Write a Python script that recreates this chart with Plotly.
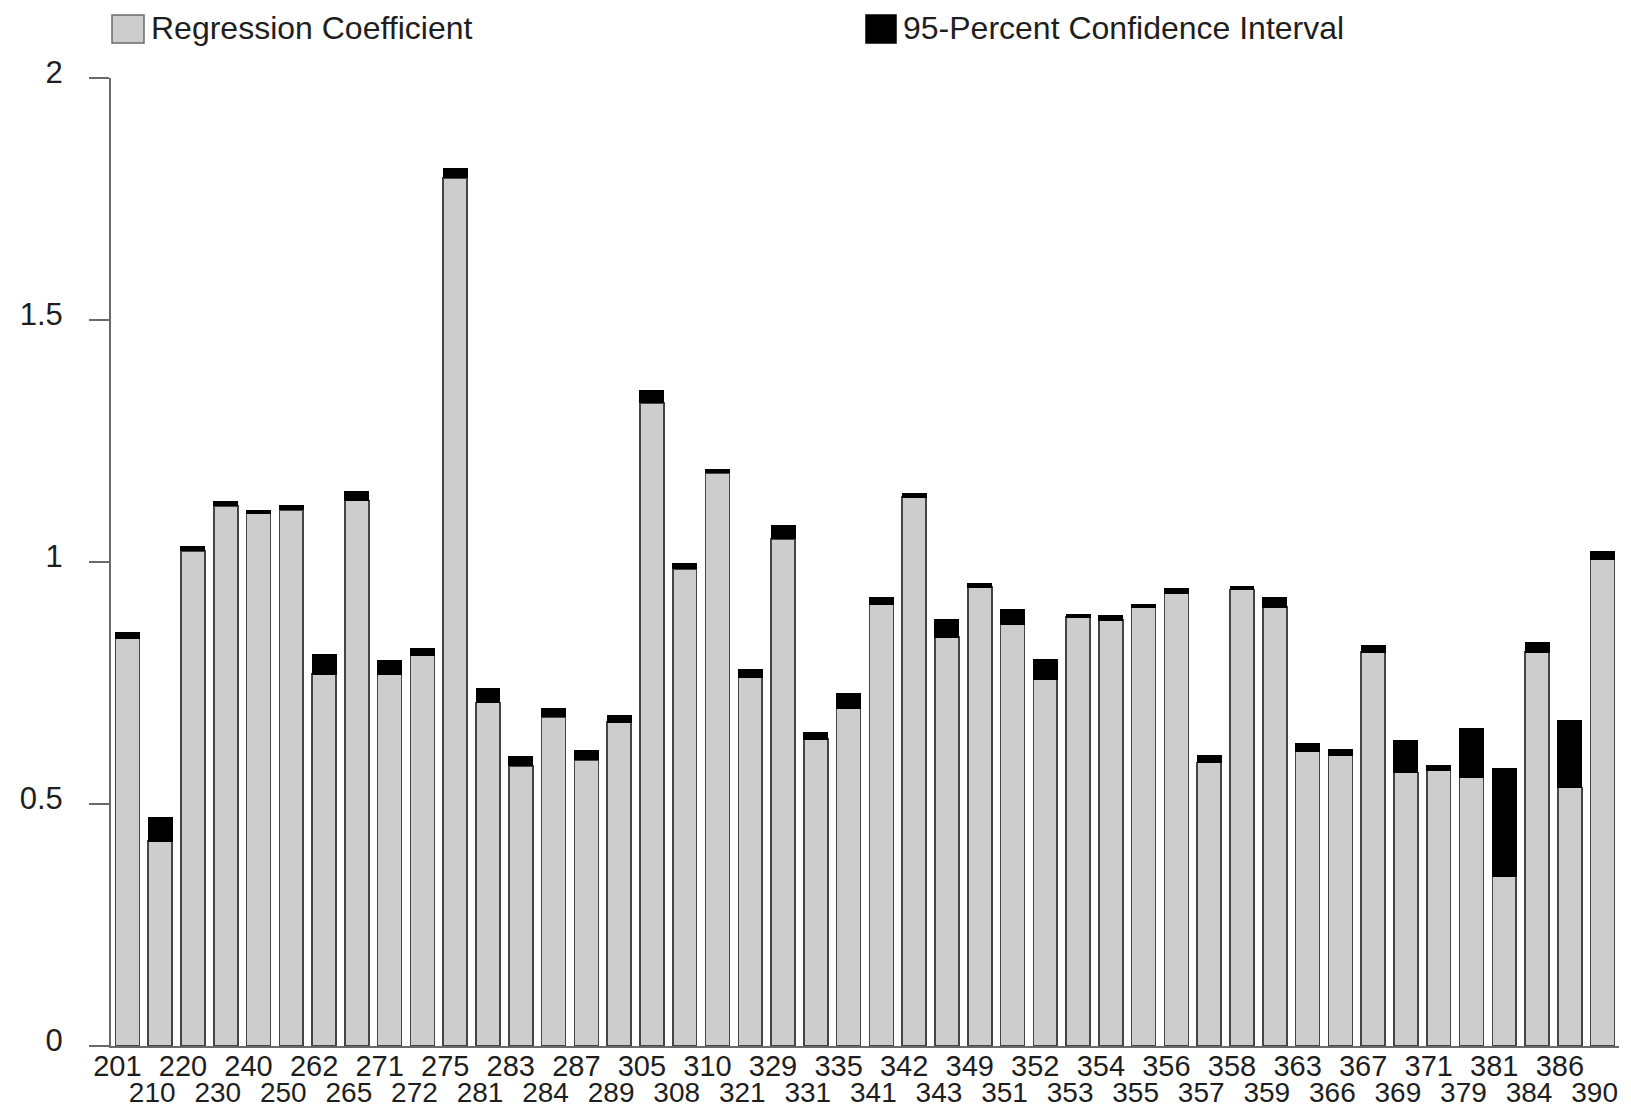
import plotly.graph_objects as go

# ---- data ----
categories = ["201", "210", "220", "230", "240", "250", "262", "265", "271", "272",
              "275", "281", "283", "284", "287", "289", "305", "308", "310", "321",
              "329", "331", "335", "341", "342", "343", "349", "351", "352", "353",
              "354", "355", "356", "357", "358", "359", "363", "366", "367", "369",
              "371", "379", "381", "384", "386", "390"]

coefficient = [0.842, 0.423, 1.023, 1.116, 1.100, 1.108, 0.768, 1.127, 0.768, 0.807,
               1.794, 0.710, 0.579, 0.680, 0.591, 0.669, 1.329, 0.986, 1.184, 0.762,
               1.048, 0.634, 0.698, 0.913, 1.134, 0.845, 0.948, 0.871, 0.757, 0.886,
               0.880, 0.907, 0.935, 0.586, 0.943, 0.907, 0.609, 0.600, 0.814, 0.565,
               0.570, 0.555, 0.351, 0.814, 0.534, 1.006]

upper_ci = [0.854, 0.473, 1.032, 1.124, 1.106, 1.116, 0.808, 1.146, 0.797, 0.822,
            1.813, 0.738, 0.598, 0.698, 0.610, 0.682, 1.355, 0.996, 1.192, 0.778,
            1.075, 0.647, 0.728, 0.927, 1.141, 0.881, 0.955, 0.902, 0.798, 0.891,
            0.889, 0.912, 0.945, 0.600, 0.949, 0.926, 0.626, 0.613, 0.828, 0.632,
            0.579, 0.656, 0.574, 0.833, 0.672, 1.021]

y_ticks = [0, 0.5, 1, 1.5, 2]
y_tick_labels = ["0", "0.5", "1", "1.5", "2"]

legend_labels = ["Regression Coefficient", "95-Percent Confidence Interval"]

# ---- styling ----
# the page body adds an 8px margin, so the figure is sized/positioned to compensate
OFF = 8
W, H = 1631 - 2 * OFF, 1119 - 2 * OFF
ML, MR, MT, MB = 103, 4, 70, 65
PW, PH = W - ML - MR, H - MT - MB
GREY = "#cdcdcd"
EDGE = "#454545"
AXIS = "#6a6a6a"
FONT = "Liberation Sans, Arial, sans-serif"
TXT = "#1e1e1e"

idx = list(range(len(categories)))
ci_width = [u - c for u, c in zip(upper_ci, coefficient)]

fig = go.Figure()
fig.add_trace(go.Bar(x=idx, y=coefficient, name=legend_labels[0],
                     marker=dict(color=GREY, line=dict(color=EDGE, width=1.6)),
                     showlegend=False))
fig.add_trace(go.Bar(x=idx, y=ci_width, name=legend_labels[1],
                     marker=dict(color="#000000", line=dict(color="#000000", width=1)),
                     showlegend=False))

even = idx[0::2]
odd = idx[1::2]

fig.update_layout(
    width=W, height=H,
    margin=dict(l=ML, r=MR, t=MT, b=MB, autoexpand=False),
    paper_bgcolor="white", plot_bgcolor="white",
    barmode="stack", bargap=0.27,
    font=dict(family=FONT, size=29, color=TXT),
    xaxis=dict(range=[-0.5, len(categories) - 0.5], tickmode="array",
               tickvals=even, ticktext=[categories[i] for i in even],
               ticks="", showgrid=False, zeroline=False, automargin=False,
               showline=True, linecolor=AXIS, linewidth=2,
               ticklabelshift=-10, ticklabelstandoff=-7, ticklabeloverflow="allow",
               tickfont=dict(size=29, color=TXT, family=FONT)),
    xaxis2=dict(overlaying="x", matches="x", anchor="y", side="bottom",
                tickmode="array", tickvals=odd,
                ticktext=[categories[i] for i in odd], automargin=False,
                ticks="", showgrid=False, zeroline=False, showline=False,
                ticklabelshift=-8, ticklabelstandoff=27, ticklabeloverflow="allow",
                tickfont=dict(size=28, color=TXT, family=FONT)),
    yaxis=dict(range=[0, 2], tickmode="array", tickvals=y_ticks,
               ticktext=y_tick_labels, ticks="outside", ticklen=20,
               tickcolor=AXIS, tickwidth=2, automargin=False,
               showgrid=False, zeroline=False,
               showline=True, linecolor=AXIS, linewidth=2,
               ticklabelstandoff=20, ticklabelshift=-6,
               tickfont=dict(size=31, color=TXT, family=FONT)),
)

# invisible trace so xaxis2 renders its ticks
fig.add_trace(go.Scatter(x=[idx[0]], y=[0], xaxis="x2", yaxis="y",
                         mode="markers", marker=dict(opacity=0),
                         showlegend=False, hoverinfo="skip"))


def px_x(p):
    return (p - OFF - ML) / PW


def px_y(p):
    return (H - MB - (p - OFF)) / PH


# manual legend (large swatches as in the original); positions in page pixels
legend_items = [(112, 144, GREY, legend_labels[0]),
                (866, 896, "#000000", legend_labels[1])]
for x0, x1, col, label in legend_items:
    fig.add_shape(type="rect", xref="paper", yref="paper",
                  x0=px_x(x0), x1=px_x(x1), y0=px_y(43), y1=px_y(15),
                  fillcolor=col,
                  line=dict(color=AXIS if col == GREY else "#000", width=1.5))
    fig.add_annotation(xref="paper", yref="paper", x=px_x(x1 + 5), y=px_y(28),
                       text=label, showarrow=False, xanchor="left", yanchor="middle",
                       font=dict(size=32, color=TXT, family=FONT))

fig.write_html("out.html")
